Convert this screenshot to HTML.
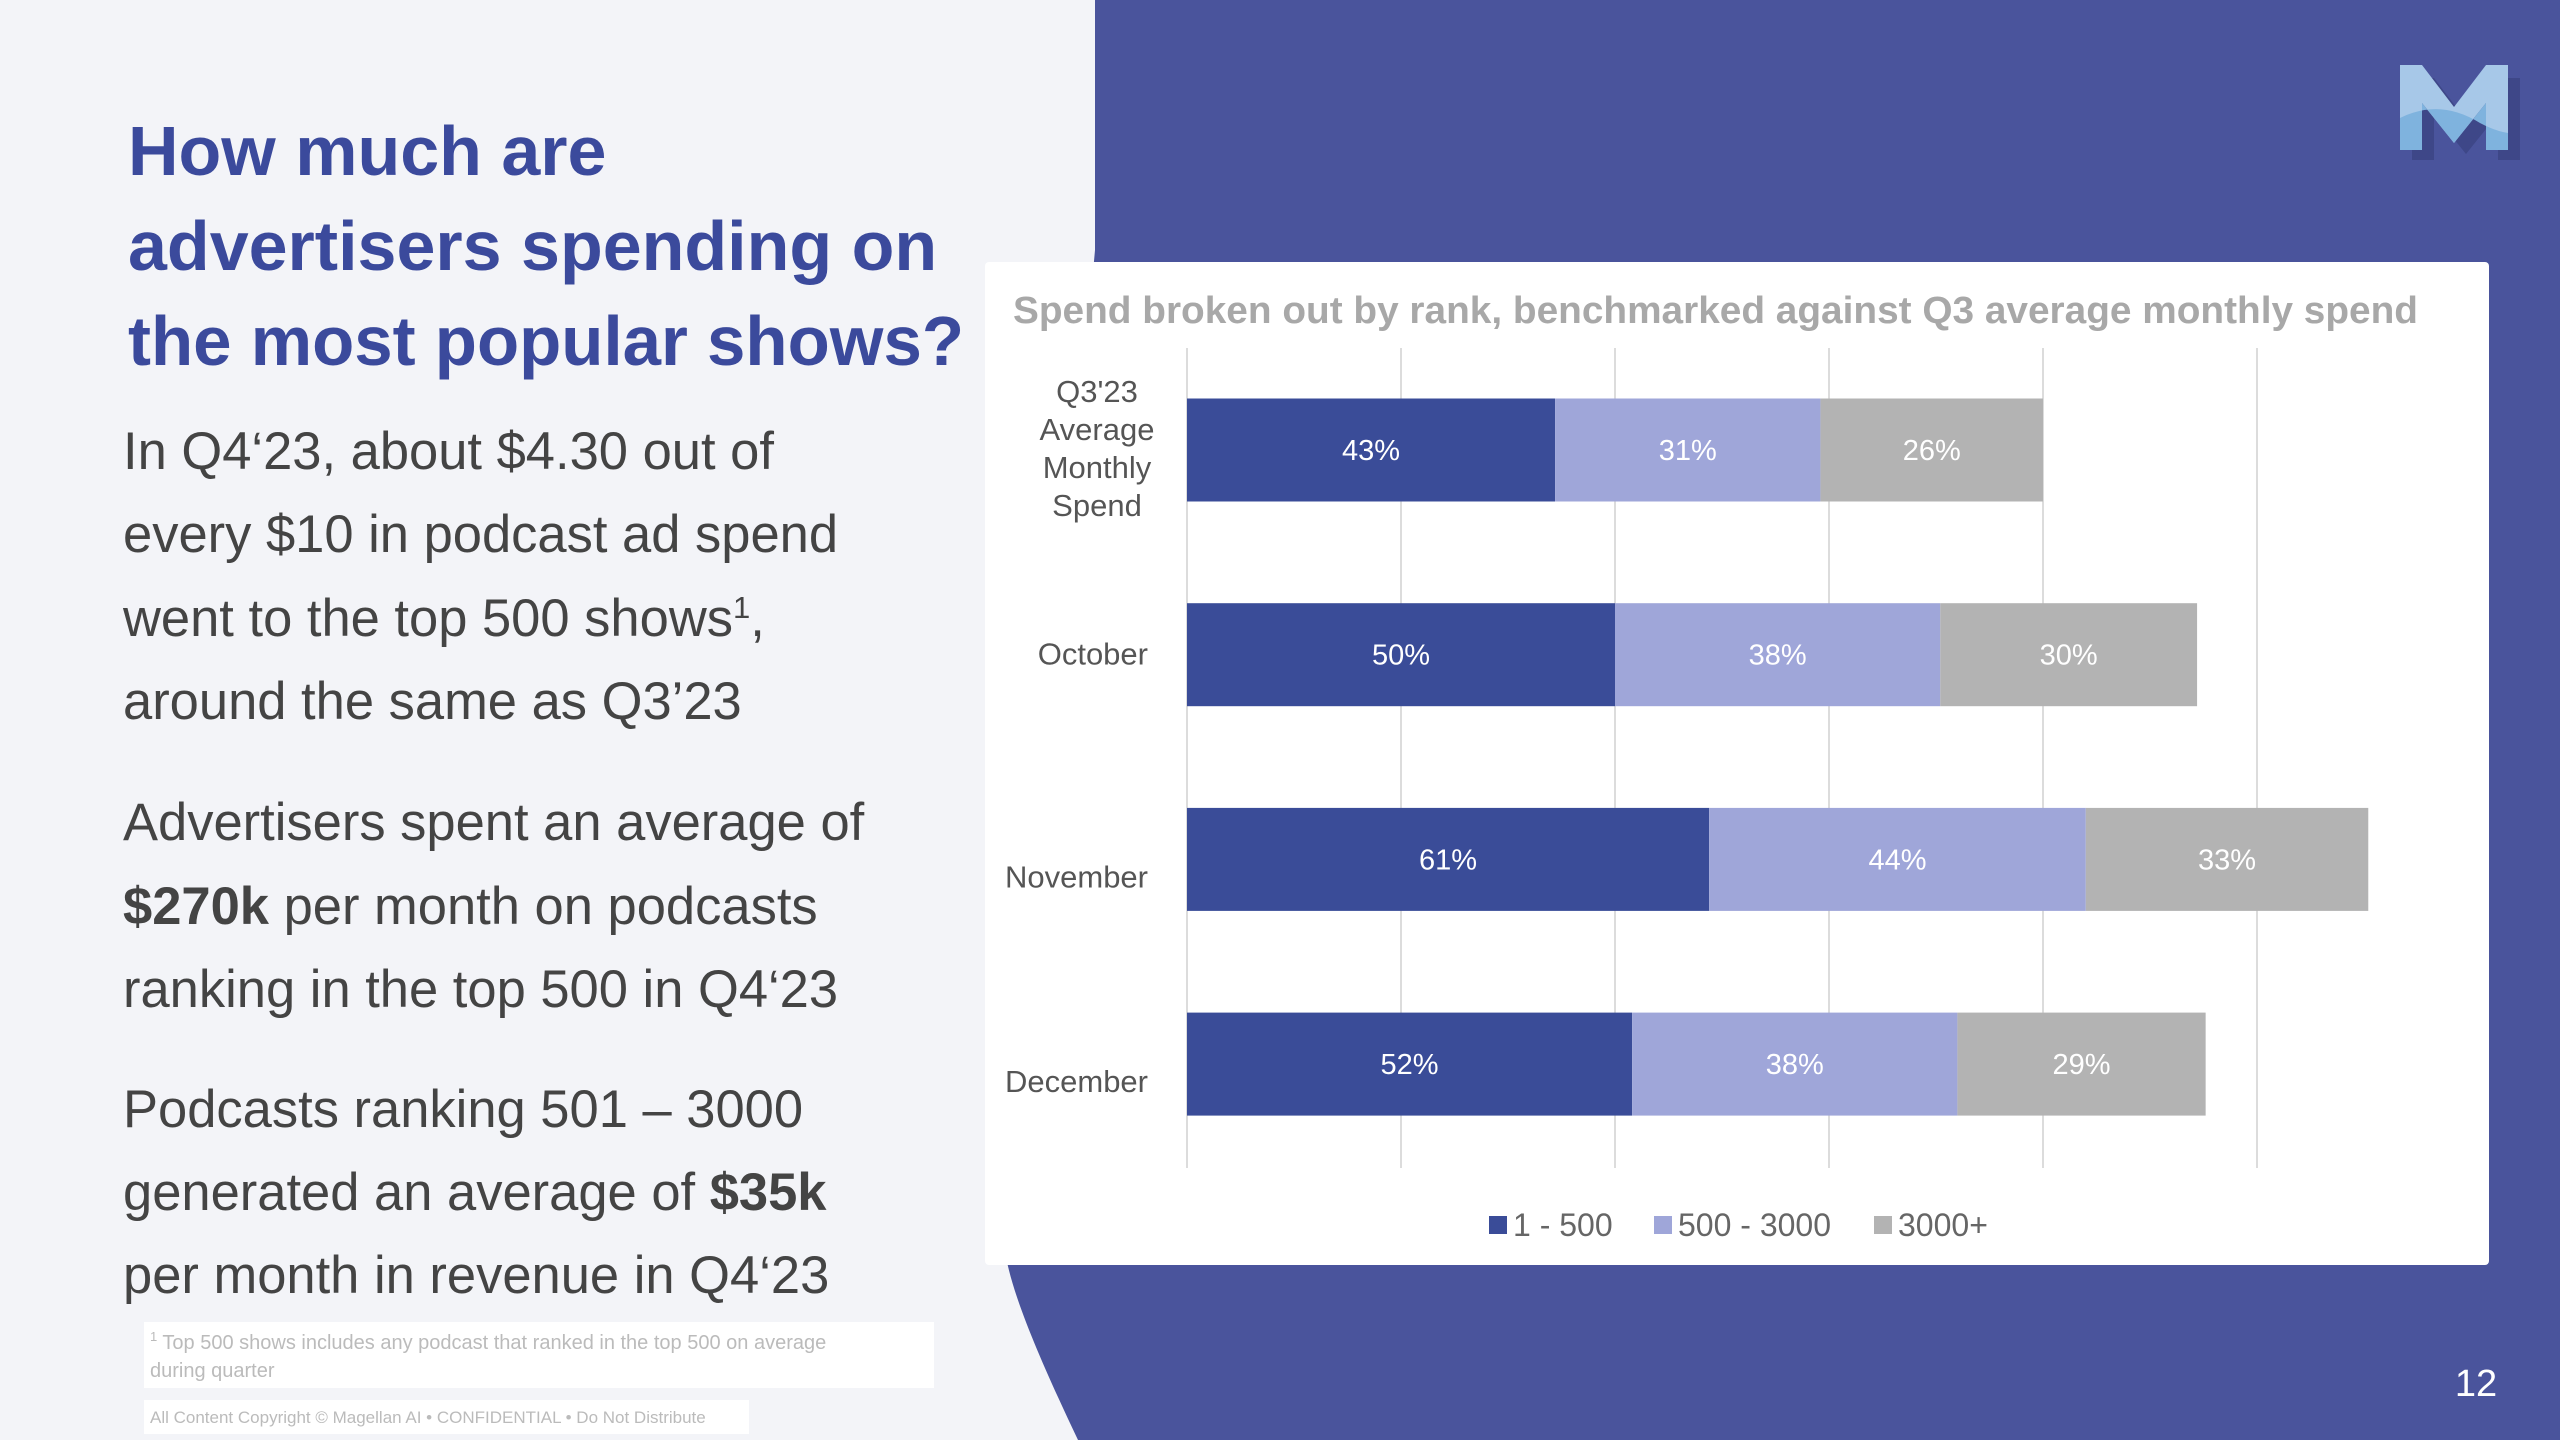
<!DOCTYPE html>
<html><head><meta charset="utf-8"><style>
html,body{margin:0;padding:0;width:2560px;height:1440px;overflow:hidden;background:#f3f4f8;font-family:"Liberation Sans",sans-serif}
svg{display:block}
</style></head><body>
<svg id="s" width="2560" height="1440" viewBox="0 0 2560 1440" xmlns="http://www.w3.org/2000/svg">
<rect x="0" y="0" width="2560" height="1440" fill="#f3f4f8"/>
<path d="M1095 0 H2560 V1440 H1078 C1040 1360 1010 1290 1005 1250 L1095 250 Z" fill="#4a549c"/>
<g>
<path d="M2412 78 h22 l32 42 l32 -42 h22 v82 h-22 v-46 l-32 40 l-32 -40 v46 h-22 z" fill="#3e4788"/>
<path d="M2400 65 h22 l32 42 l32 -42 h22 v85 h-22 v-47 l-32 40 l-32 -40 v47 h-22 z" fill="#a7c8e8"/>
<path d="M2400 118 q40 -20 80 5 q15 8 28 10 v17 h-22 v-47 l-32 40 l-32 -40 v47 h-22 z" fill="#7fb3de"/>
</g>
<g font-weight="bold" fill="#3b4a9c" font-size="70">
<text x="128" y="175">How much are</text>
<text x="128" y="270">advertisers spending on</text>
<text x="128" y="365" textLength="836" lengthAdjust="spacingAndGlyphs">the most popular shows?</text>
</g>
<g fill="#444" font-size="52.5">
<text x="123" y="469">In Q4‘23, about $4.30 out of</text>
<text x="123" y="552">every $10 in podcast ad spend</text>
<text x="123" y="636">went to the top 500 shows<tspan font-size="31" dy="-18">1</tspan><tspan dy="18">,</tspan></text>
<text x="123" y="719">around the same as Q3’23</text>
<text x="123" y="840">Advertisers spent an average of</text>
<text x="123" y="924"><tspan font-weight="bold">$270k</tspan> per month on podcasts</text>
<text x="123" y="1007">ranking in the top 500 in Q4‘23</text>
<text x="123" y="1127">Podcasts ranking 501 – 3000</text>
<text x="123" y="1210">generated an average of <tspan font-weight="bold">$35k</tspan></text>
<text x="123" y="1293">per month in revenue in Q4‘23</text>
</g>
<rect x="144" y="1322" width="790" height="66" fill="#fff"/>
<text x="150" y="1349" font-size="20" fill="#bbb"><tspan font-size="13" dy="-8">1</tspan><tspan dy="8"> Top 500 shows includes any podcast that ranked in the top 500 on average</tspan></text>
<text x="150" y="1377" font-size="20" fill="#bbb">during quarter</text>
<rect x="144" y="1400" width="605" height="34" fill="#fff"/>
<text x="150" y="1423" font-size="17" fill="#bbb">All Content Copyright © Magellan AI  •  CONFIDENTIAL  •  Do Not Distribute</text>
<text x="2476" y="1396" font-size="38" fill="#fff" text-anchor="middle">12</text>
<rect x="985" y="262" width="1504" height="1003" rx="4" fill="#fff"/>
<text x="1013" y="323" font-size="38" font-weight="bold" fill="#a8a8a8" textLength="1405" lengthAdjust="spacingAndGlyphs">Spend broken out by rank, benchmarked against Q3 average monthly spend</text>
<g id="chart"></g>
</svg>
<script>
const categories = ["Q3'23 Average Monthly Spend","October","November","December"];
const seriesNames = ["1 - 500","500 - 3000","3000+"];
const top500 = [43,50,61,52];
const mid = [31,38,44,38];
const tail = [26,30,33,29];
const gridTicks = [0,25,50,75,100,125];
const colors = ["#3a4c98","#9fa6d9","#b3b3b3"];
const NS="http://www.w3.org/2000/svg";
const g=document.getElementById('chart');
const x0=1187, pxPer=8.56, y0=450, step=204.7, bh=103;
const xs=v=>x0+v*pxPer;
const ys=i=>y0+i*step;
function mk(t,a){const e=document.createElementNS(NS,t);for(const k in a)e.setAttribute(k,a[k]);g.appendChild(e);return e;}
gridTicks.forEach(t=>{
 const l=mk('line',{x1:xs(t),x2:xs(t),y1:348,y2:1168,stroke:'#dcdcdc','stroke-width':2});
 
 
});
const series=[top500,mid,tail];
categories.forEach((c,i)=>{
 let acc=0;
 series.forEach((s,j)=>{
  const v=s[i];
  const r=mk('rect',{x:xs(acc),y:ys(i)-bh/2,width:v*pxPer,height:bh,fill:colors[j]});
  
  
  const t=mk('text',{x:xs(acc+v/2),y:ys(i)+10,'font-size':29,fill:'#fff','text-anchor':'middle'});
  t.textContent=v+'%';
  
  
  acc+=v;
 });
});
const q=mk('text',{x:1097,y:402,'font-size':31,fill:'#555','text-anchor':'middle'});


["Q3'23","Average","Monthly","Spend"].forEach((w,k)=>{const ts=document.createElementNS(NS,'tspan');ts.setAttribute('x',1097);ts.setAttribute('y',402+k*38);ts.textContent=w;q.appendChild(ts);});
const offs=[0,0,18,18];
categories.forEach((c,i)=>{ if(i===0)return;
 const t=mk('text',{x:1148,y:ys(i)+offs[i]+10,'font-size':31,fill:'#555','text-anchor':'end'});
 t.textContent=c;
 
 
});
const lx=[1489,1654,1874];
seriesNames.forEach((n,j)=>{
 const r=mk('rect',{x:lx[j],y:1216,width:18,height:18,fill:colors[j]});
 
 
 const t=mk('text',{x:lx[j]+24,y:1236,'font-size':32,fill:'#666'});
 t.textContent=n;
 
 
});
</script>
</body></html>
